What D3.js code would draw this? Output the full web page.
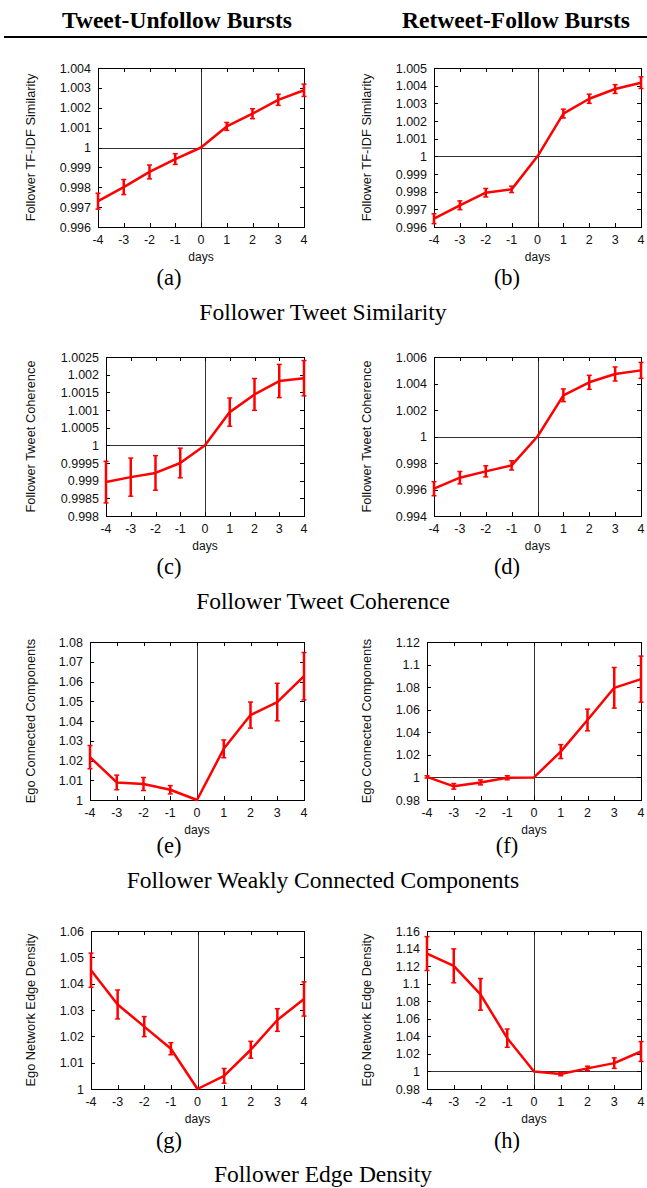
<!DOCTYPE html>
<html><head><meta charset="utf-8">
<script src="https://cdn.jsdelivr.net/npm/d3@7"></script>
<style>body{margin:0;background:#fff}svg{display:block}</style>
</head><body><svg id="c" width="647" height="1188"></svg>
<script>
// ---------- data ----------
const days = [-4, -3, -2, -1, 0, 1, 2, 3, 4];
const xTickLabels = ["-4", "-3", "-2", "-1", "0", "1", "2", "3", "4"];

const simTU    = [0.99730, 0.99801, 0.99877, 0.99942, 1.0, 1.00106, 1.00170, 1.00240, 1.00288];
const simTUerr = [0.00040, 0.00038, 0.00035, 0.00027, 0, 0.00020, 0.00025, 0.00028, 0.00031];
const simRF    = [0.99647, 0.99723, 0.99794, 0.99813, 1.0, 1.00242, 1.00326, 1.00381, 1.00417];
const simRFerr = [0.00028, 0.00025, 0.00024, 0.00018, 0, 0.00025, 0.00026, 0.00025, 0.00033];

const cohTU    = [0.99896, 0.99910, 0.99922, 0.99950, 1.0, 1.00094, 1.00144, 1.00182, 1.00190];
const cohTUerr = [0.00059, 0.00054, 0.00049, 0.00042, 0, 0.00040, 0.00045, 0.00047, 0.00050];
const cohRF    = [0.99606, 0.99689, 0.99737, 0.99782, 1.0, 1.00311, 1.00409, 1.00472, 1.00499];
const cohRFerr = [0.00053, 0.00047, 0.00042, 0.00035, 0, 0.00048, 0.00053, 0.00053, 0.00060];

const wccTU    = [1.0217, 1.0089, 1.0081, 1.0052, 1.0, 1.0259, 1.0430, 1.0496, 1.0627];
const wccTUerr = [0.0059, 0.0037, 0.0033, 0.0021, 0, 0.0045, 0.0066, 0.0095, 0.0120];
const wccRF    = [1.0005, 0.9921, 0.9956, 0.9997, 1.0, 1.0229, 1.0509, 1.0794, 1.0871];
const wccRFerr = [0.0010, 0.0025, 0.0022, 0.0018, 0, 0.0062, 0.0096, 0.0180, 0.0204];

const denTU    = [1.0451, 1.0321, 1.0237, 1.0153, 1.0, 1.0050, 1.0149, 1.0262, 1.0342];
const denTUerr = [0.0065, 0.0055, 0.0038, 0.0023, 0, 0.0028, 0.0032, 0.0043, 0.0065];
const denRF    = [1.1343, 1.1203, 1.0878, 1.0379, 1.0, 0.9970, 1.0035, 1.0095, 1.0227];
const denRFerr = [0.0193, 0.0193, 0.0180, 0.0104, 0, 0.0019, 0.0025, 0.0060, 0.0113];

const ticksA = [0.996, 0.997, 0.998, 0.999, 1, 1.001, 1.002, 1.003, 1.004];
const labelsA = ["0.996", "0.997", "0.998", "0.999", "1", "1.001", "1.002", "1.003", "1.004"];
const ticksB = [0.996, 0.997, 0.998, 0.999, 1, 1.001, 1.002, 1.003, 1.004, 1.005];
const labelsB = ["0.996", "0.997", "0.998", "0.999", "1", "1.001", "1.002", "1.003", "1.004", "1.005"];
const ticksC = [0.998, 0.9985, 0.999, 0.9995, 1, 1.0005, 1.001, 1.0015, 1.002, 1.0025];
const labelsC = ["0.998", "0.9985", "0.999", "0.9995", "1", "1.0005", "1.001", "1.0015", "1.002", "1.0025"];
const ticksD = [0.994, 0.996, 0.998, 1, 1.002, 1.004, 1.006];
const labelsD = ["0.994", "0.996", "0.998", "1", "1.002", "1.004", "1.006"];
const ticksE = [1, 1.01, 1.02, 1.03, 1.04, 1.05, 1.06, 1.07, 1.08];
const labelsE = ["1", "1.01", "1.02", "1.03", "1.04", "1.05", "1.06", "1.07", "1.08"];
const ticksF = [0.98, 1, 1.02, 1.04, 1.06, 1.08, 1.1, 1.12];
const labelsF = ["0.98", "1", "1.02", "1.04", "1.06", "1.08", "1.1", "1.12"];
const ticksG = [1, 1.01, 1.02, 1.03, 1.04, 1.05, 1.06];
const labelsG = ["1", "1.01", "1.02", "1.03", "1.04", "1.05", "1.06"];
const ticksH = [0.98, 1, 1.02, 1.04, 1.06, 1.08, 1.1, 1.12, 1.14, 1.16];
const labelsH = ["0.98", "1", "1.02", "1.04", "1.06", "1.08", "1.1", "1.12", "1.14", "1.16"];

const columnTitles = ["Tweet-Unfollow Bursts", "Retweet-Follow Bursts"];
const groupCaptions = ["Follower Tweet Similarity", "Follower Tweet Coherence",
                       "Follower Weakly Connected Components", "Follower Edge Density"];
const xTitle = "days";

// ---------- layout ----------
const SANS = "'Liberation Sans', Arial, Helvetica, sans-serif";
const SERIF = "'Liberation Serif', 'Times New Roman', Times, serif";
const RED = "#ff0000";

const panels = [
  {tag:"(a)", vals:simTU, errs:simTUerr, ticks:ticksA, labels:labelsA, ylab:"Follower TF-IDF Similarity", L:98,  R:304, T:68,  B:227,  yl:30,    cx:169},
  {tag:"(b)", vals:simRF, errs:simRFerr, ticks:ticksB, labels:labelsB, ylab:"Follower TF-IDF Similarity", L:434, R:641, T:68,  B:227,  yl:366.5, cx:507},
  {tag:"(c)", vals:cohTU, errs:cohTUerr, ticks:ticksC, labels:labelsC, ylab:"Follower Tweet Coherence",   L:106, R:304, T:357, B:516,  yl:30,    cx:169},
  {tag:"(d)", vals:cohRF, errs:cohRFerr, ticks:ticksD, labels:labelsD, ylab:"Follower Tweet Coherence",   L:434, R:641, T:357, B:516,  yl:366.5, cx:507},
  {tag:"(e)", vals:wccTU, errs:wccTUerr, ticks:ticksE, labels:labelsE, ylab:"Ego Connected Components",   L:90,  R:304, T:642, B:800,  yl:30,    cx:169},
  {tag:"(f)", vals:wccRF, errs:wccRFerr, ticks:ticksF, labels:labelsF, ylab:"Ego Connected Components",   L:427, R:641, T:642, B:800,  yl:366.5, cx:507},
  {tag:"(g)", vals:denTU, errs:denTUerr, ticks:ticksG, labels:labelsG, ylab:"Ego Network Edge Density",   L:91,  R:304, T:931, B:1089, yl:30,    cx:169},
  {tag:"(h)", vals:denRF, errs:denRFerr, ticks:ticksH, labels:labelsH, ylab:"Ego Network Edge Density",   L:427, R:641, T:931, B:1089, yl:366.5, cx:507}
];
const capBase = [285, 574, 853, 1148];
const groupBase = [320, 609, 888, 1182];

const svg = d3.select("#c");

// header
svg.selectAll("text.coltitle").data(columnTitles).join("text")
  .attr("class", "coltitle")
  .attr("x", (d, i) => [177, 516][i]).attr("y", 28)
  .attr("text-anchor", "middle")
  .style("font-family", SERIF).style("font-weight", "bold").style("font-size", "23.5px")
  .text(d => d);
svg.append("line").attr("x1", 4).attr("x2", 647).attr("y1", 37).attr("y2", 37)
  .attr("stroke", "#000").attr("stroke-width", 2.2);

// group captions
svg.selectAll("text.grp").data(groupCaptions).join("text")
  .attr("class", "grp")
  .attr("x", 323).attr("y", (d, i) => groupBase[i])
  .attr("text-anchor", "middle")
  .style("font-family", SERIF).style("font-size", "23.5px")
  .text(d => d);

const TL = 4; // tick length

panels.forEach((p, idx) => {
  const g = svg.append("g");
  const x = d3.scaleLinear().domain([d3.min(days), d3.max(days)]).range([p.L, p.R]);
  const y = d3.scaleLinear().domain([p.ticks[0], p.ticks[p.ticks.length - 1]]).range([p.B, p.T]);
  const px = v => Math.round(v) + 0.5;

  // zero lines
  const axes = g.append("g").attr("stroke", "#333").attr("stroke-width", 1).attr("shape-rendering", "crispEdges");
  axes.append("line").attr("x1", px(x(0))).attr("x2", px(x(0))).attr("y1", p.T).attr("y2", p.B);
  if (y(1) < p.B - 1) axes.append("line").attr("x1", p.L).attr("x2", p.R).attr("y1", px(y(1))).attr("y2", px(y(1)));

  // ticks (mirrored, inward)
  const tk = g.append("g").attr("stroke", "#000").attr("stroke-width", 1).attr("shape-rendering", "crispEdges");
  p.ticks.forEach(t => {
    const yy = px(y(t));
    tk.append("line").attr("x1", p.L).attr("x2", p.L + TL).attr("y1", yy).attr("y2", yy);
    tk.append("line").attr("x1", p.R).attr("x2", p.R - TL).attr("y1", yy).attr("y2", yy);
  });
  days.forEach(t => {
    const xx = px(x(t));
    tk.append("line").attr("x1", xx).attr("x2", xx).attr("y1", p.B).attr("y2", p.B - TL);
    tk.append("line").attr("x1", xx).attr("x2", xx).attr("y1", p.T).attr("y2", p.T + TL);
  });
  // frame
  g.append("rect").attr("x", px(p.L)).attr("y", px(p.T))
    .attr("width", Math.round(p.R) - Math.round(p.L)).attr("height", Math.round(p.B) - Math.round(p.T))
    .attr("fill", "none").attr("stroke", "#000").attr("stroke-width", 1).attr("shape-rendering", "crispEdges");

  // tick labels
  g.append("g").selectAll("text").data(p.ticks).join("text")
    .attr("x", p.L - 7).attr("y", d => y(d)).attr("dy", "0.36em")
    .attr("text-anchor", "end")
    .style("font-family", SANS).style("font-size", "12.5px").attr("fill", "#111")
    .text((d, i) => p.labels[i]);
  g.append("g").selectAll("text").data(days).join("text")
    .attr("x", d => x(d)).attr("y", p.B + 17)
    .attr("text-anchor", "middle")
    .style("font-family", SANS).style("font-size", "12.5px").attr("fill", "#111")
    .text((d, i) => xTickLabels[i]);

  // axis titles
  g.append("text").attr("x", (p.L + p.R) / 2).attr("y", p.B + 34)
    .attr("text-anchor", "middle")
    .style("font-family", SANS).style("font-size", "12px").attr("fill", "#111")
    .text(xTitle);
  g.append("text")
    .attr("transform", `translate(${p.yl + 4.5},${(p.T + p.B) / 2}) rotate(-90)`)
    .attr("text-anchor", "middle")
    .style("font-family", SANS).style("font-size", "12.8px").attr("fill", "#111")
    .text(p.ylab);

  // data line
  const pts = days.map((d, i) => ({x: d, v: p.vals[i], e: p.errs[i]}));
  g.append("path").datum(pts)
    .attr("d", d3.line().x(d => x(d.x)).y(d => y(d.v)))
    .attr("fill", "none").attr("stroke", RED).attr("stroke-width", 2.5)
    .attr("stroke-linejoin", "round");

  // error bars
  const eb = g.append("g").attr("stroke", RED).attr("stroke-width", 2.5);
  pts.filter(d => d.e > 0).forEach(d => {
    const xx = x(d.x);
    eb.append("line").attr("x1", xx).attr("x2", xx).attr("y1", y(d.v - d.e)).attr("y2", y(d.v + d.e));
    eb.append("line").attr("x1", xx - 2.5).attr("x2", xx + 2.5).attr("y1", y(d.v - d.e)).attr("y2", y(d.v - d.e)).attr("stroke-width", 1.5);
    eb.append("line").attr("x1", xx - 2.5).attr("x2", xx + 2.5).attr("y1", y(d.v + d.e)).attr("y2", y(d.v + d.e)).attr("stroke-width", 1.5);
  });

  // subcaption
  g.append("text").attr("x", p.cx).attr("y", capBase[Math.floor(idx / 2)])
    .attr("text-anchor", "middle")
    .style("font-family", SERIF).style("font-size", "22.5px")
    .text(p.tag);
});
</script>
</body></html>
